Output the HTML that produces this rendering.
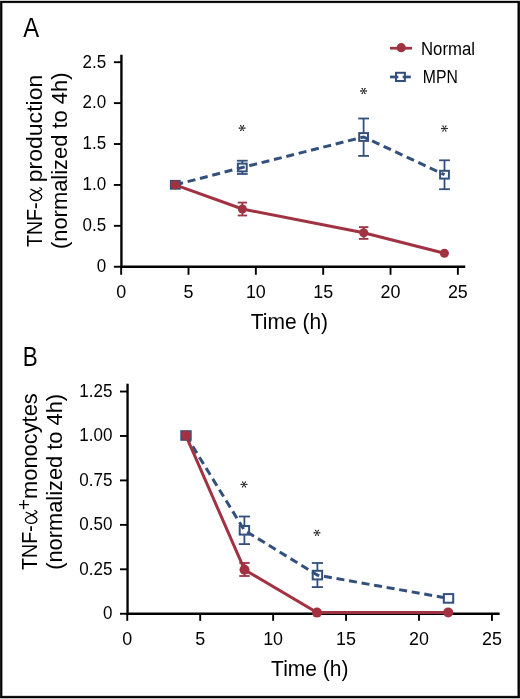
<!DOCTYPE html>
<html><head><meta charset="utf-8"><style>
html,body{margin:0;padding:0;background:#fff;}
body{width:520px;height:699px;overflow:hidden;position:relative;}
svg{position:absolute;left:0;top:0;display:block;will-change:transform;}
text{-webkit-font-smoothing:antialiased;}
</style></head><body>
<svg width="520" height="699" viewBox="0 0 520 699">
<rect x="0" y="0" width="520" height="699" fill="#fff"/>
<g shape-rendering="crispEdges">
<rect x="0" y="0" width="520" height="1" fill="#d0d0d0"/>
<rect x="0" y="698" width="520" height="1" fill="#c4c4c4"/>
<rect x="0" y="1" width="520" height="1" fill="#000"/>
<rect x="0" y="2" width="520" height="1" fill="#1a1a1a"/>
<rect x="3" y="3" width="514" height="1" fill="#ececec"/>
<rect x="3" y="695" width="514" height="1" fill="#dadada"/>
<rect x="0" y="696" width="520" height="1" fill="#121212"/>
<rect x="0" y="697" width="520" height="1" fill="#000"/>
<rect x="0" y="1" width="1" height="697" fill="#1a1a1a"/>
<rect x="1" y="1" width="1" height="697" fill="#000"/>
<rect x="2" y="3" width="1" height="693" fill="#a0a0a0"/>
<rect x="517" y="3" width="1" height="693" fill="#808080"/>
<rect x="518" y="1" width="1" height="697" fill="#000"/>
<rect x="519" y="1" width="1" height="697" fill="#1a1a1a"/>
</g>

<g stroke="#000" fill="none">
<line x1="121.42" y1="54.7" x2="121.42" y2="267.95" stroke-width="2.35"/>
<line x1="120.32000000000001" y1="266.75" x2="465.2" y2="266.75" stroke-width="2.45"/>
<line x1="113.9" y1="266.75" x2="121.42" y2="266.75" stroke-width="1.9"/>
<line x1="113.9" y1="225.84" x2="121.42" y2="225.84" stroke-width="1.9"/>
<line x1="113.9" y1="184.93" x2="121.42" y2="184.93" stroke-width="1.9"/>
<line x1="113.9" y1="144.02" x2="121.42" y2="144.02" stroke-width="1.9"/>
<line x1="113.9" y1="103.11" x2="121.42" y2="103.11" stroke-width="1.9"/>
<line x1="113.9" y1="62.20" x2="121.42" y2="62.20" stroke-width="1.9"/>
<line x1="121.16" y1="266.75" x2="121.16" y2="274.75" stroke-width="1.9"/>
<line x1="188.50" y1="266.75" x2="188.50" y2="274.75" stroke-width="1.9"/>
<line x1="255.84" y1="266.75" x2="255.84" y2="274.75" stroke-width="1.9"/>
<line x1="323.18" y1="266.75" x2="323.18" y2="274.75" stroke-width="1.9"/>
<line x1="390.52" y1="266.75" x2="390.52" y2="274.75" stroke-width="1.9"/>
<line x1="457.86" y1="266.75" x2="457.86" y2="274.75" stroke-width="1.9"/>
</g>
<g font-family='"Liberation Sans", sans-serif' font-size="17.9" fill="#000">
<text x="106.1" y="272.10" text-anchor="end" textLength="9.45" lengthAdjust="spacingAndGlyphs">0</text>
<text x="106.1" y="231.19" text-anchor="end" textLength="23.64" lengthAdjust="spacingAndGlyphs">0.5</text>
<text x="106.1" y="190.28" text-anchor="end" textLength="23.64" lengthAdjust="spacingAndGlyphs">1.0</text>
<text x="106.1" y="149.37" text-anchor="end" textLength="23.64" lengthAdjust="spacingAndGlyphs">1.5</text>
<text x="106.1" y="108.46" text-anchor="end" textLength="23.64" lengthAdjust="spacingAndGlyphs">2.0</text>
<text x="106.1" y="67.55" text-anchor="end" textLength="23.64" lengthAdjust="spacingAndGlyphs">2.5</text>
<text x="121.16" y="297.8" text-anchor="middle" textLength="9.95" lengthAdjust="spacingAndGlyphs">0</text>
<text x="188.50" y="297.8" text-anchor="middle" textLength="9.95" lengthAdjust="spacingAndGlyphs">5</text>
<text x="255.84" y="297.8" text-anchor="middle" textLength="19.90" lengthAdjust="spacingAndGlyphs">10</text>
<text x="323.18" y="297.8" text-anchor="middle" textLength="19.90" lengthAdjust="spacingAndGlyphs">15</text>
<text x="390.52" y="297.8" text-anchor="middle" textLength="19.90" lengthAdjust="spacingAndGlyphs">20</text>
<text x="457.86" y="297.8" text-anchor="middle" textLength="19.90" lengthAdjust="spacingAndGlyphs">25</text>
</g>
<g stroke="#000" fill="none">
<line x1="127.55" y1="383.7" x2="127.55" y2="614.95" stroke-width="2.35"/>
<line x1="126.45" y1="613.75" x2="499.6" y2="613.75" stroke-width="2.45"/>
<line x1="120.0" y1="613.75" x2="127.55" y2="613.75" stroke-width="1.9"/>
<line x1="120.0" y1="569.30" x2="127.55" y2="569.30" stroke-width="1.9"/>
<line x1="120.0" y1="524.86" x2="127.55" y2="524.86" stroke-width="1.9"/>
<line x1="120.0" y1="480.41" x2="127.55" y2="480.41" stroke-width="1.9"/>
<line x1="120.0" y1="435.97" x2="127.55" y2="435.97" stroke-width="1.9"/>
<line x1="120.0" y1="391.52" x2="127.55" y2="391.52" stroke-width="1.9"/>
<line x1="127.26" y1="613.75" x2="127.26" y2="620.84" stroke-width="1.9"/>
<line x1="200.19" y1="613.75" x2="200.19" y2="620.84" stroke-width="1.9"/>
<line x1="273.13" y1="613.75" x2="273.13" y2="620.84" stroke-width="1.9"/>
<line x1="346.06" y1="613.75" x2="346.06" y2="620.84" stroke-width="1.9"/>
<line x1="419.00" y1="613.75" x2="419.00" y2="620.84" stroke-width="1.9"/>
<line x1="491.94" y1="613.75" x2="491.94" y2="620.84" stroke-width="1.9"/>
</g>
<g font-family='"Liberation Sans", sans-serif' font-size="17.9" fill="#000">
<text x="112.4" y="619.10" text-anchor="end" textLength="9.45" lengthAdjust="spacingAndGlyphs">0</text>
<text x="112.4" y="574.65" text-anchor="end" textLength="33.09" lengthAdjust="spacingAndGlyphs">0.25</text>
<text x="112.4" y="530.21" text-anchor="end" textLength="33.09" lengthAdjust="spacingAndGlyphs">0.50</text>
<text x="112.4" y="485.76" text-anchor="end" textLength="33.09" lengthAdjust="spacingAndGlyphs">0.75</text>
<text x="112.4" y="441.32" text-anchor="end" textLength="33.09" lengthAdjust="spacingAndGlyphs">1.00</text>
<text x="112.4" y="396.88" text-anchor="end" textLength="33.09" lengthAdjust="spacingAndGlyphs">1.25</text>
<text x="127.26" y="644.5" text-anchor="middle" textLength="9.95" lengthAdjust="spacingAndGlyphs">0</text>
<text x="200.19" y="644.5" text-anchor="middle" textLength="9.95" lengthAdjust="spacingAndGlyphs">5</text>
<text x="273.13" y="644.5" text-anchor="middle" textLength="19.90" lengthAdjust="spacingAndGlyphs">10</text>
<text x="346.06" y="644.5" text-anchor="middle" textLength="19.90" lengthAdjust="spacingAndGlyphs">15</text>
<text x="419.00" y="644.5" text-anchor="middle" textLength="19.90" lengthAdjust="spacingAndGlyphs">20</text>
<text x="491.94" y="644.5" text-anchor="middle" textLength="19.90" lengthAdjust="spacingAndGlyphs">25</text>
</g>
<g font-family='"Liberation Sans", sans-serif' fill="#000">
<text x="23.3" y="37.1" font-size="27.9" textLength="15.9" lengthAdjust="spacingAndGlyphs">A</text>
<text x="22.8" y="366.1" font-size="27.9" textLength="15.0" lengthAdjust="spacingAndGlyphs">B</text>
<text x="250.8" y="328.6" font-size="22" textLength="77.3" lengthAdjust="spacingAndGlyphs">Time (h)</text>
<text x="271.1" y="675.8" font-size="22" textLength="77.3" lengthAdjust="spacingAndGlyphs">Time (h)</text>
<text transform="translate(41.7,246.94) rotate(-90)" font-size="22" textLength="44.5" lengthAdjust="spacingAndGlyphs">TNF-</text>
<path transform="translate(41.7,200.8) rotate(-90)" d="M11.6 -11.2 C10.6 -9.0 9.8 -6.8 8.6 -5.2 C7.0 -2.0 6.0 0.0 4.2 0.0 C1.8 0.0 0.3 -2.6 0.3 -5.7 C0.3 -9.0 2.0 -11.5 4.2 -11.5 C6.2 -11.5 7.2 -8.0 8.6 -5.2 C9.6 -3.0 10.4 -0.5 11.3 0.0 C12.2 0.3 13.0 -1.5 13.3 -2.5" fill="none" stroke="#000" stroke-width="1.3"/>
<text transform="translate(41.7,182.3) rotate(-90)" font-size="22" textLength="107.6" lengthAdjust="spacingAndGlyphs">production</text>
<text transform="translate(67.0,249.05) rotate(-90)" font-size="22" textLength="176.5" lengthAdjust="spacingAndGlyphs">(normalized to 4h)</text>
<text transform="translate(36.7,570.04) rotate(-90)" font-size="22" textLength="44.7" lengthAdjust="spacingAndGlyphs">TNF-</text>
<path transform="translate(36.9,523.7) rotate(-90)" d="M11.6 -11.2 C10.6 -9.0 9.8 -6.8 8.6 -5.2 C7.0 -2.0 6.0 0.0 4.2 0.0 C1.8 0.0 0.3 -2.6 0.3 -5.7 C0.3 -9.0 2.0 -11.5 4.2 -11.5 C6.2 -11.5 7.2 -8.0 8.6 -5.2 C9.6 -3.0 10.4 -0.5 11.3 0.0 C12.2 0.3 13.0 -1.5 13.3 -2.5" fill="none" stroke="#000" stroke-width="1.3"/>
<text transform="translate(30.7,510.2) rotate(-90)" font-size="20.4" textLength="11.2" lengthAdjust="spacingAndGlyphs">+</text>
<text transform="translate(36.7,498.95) rotate(-90)" font-size="22" textLength="105.7" lengthAdjust="spacingAndGlyphs">monocytes</text>
<text transform="translate(62.3,569.85) rotate(-90)" font-size="22" textLength="176.0" lengthAdjust="spacingAndGlyphs">(normalized to 4h)</text>
<text x="421" y="54.5" font-size="17.6" textLength="54" lengthAdjust="spacingAndGlyphs">Normal</text>
<text x="422.8" y="82.8" font-size="17.6" textLength="35" lengthAdjust="spacingAndGlyphs">MPN</text>
</g>
<g stroke="#222" fill="#222" stroke-width="0.9" stroke-linecap="round">
<line x1="239.10" y1="128.10" x2="245.10" y2="128.10"/><line x1="240.60" y1="125.50" x2="243.60" y2="130.70"/><line x1="243.60" y1="125.50" x2="240.60" y2="130.70"/><circle cx="244.80" cy="128.10" r="0.65" stroke="none"/><circle cx="243.45" cy="130.44" r="0.65" stroke="none"/><circle cx="240.75" cy="130.44" r="0.65" stroke="none"/><circle cx="239.40" cy="128.10" r="0.65" stroke="none"/><circle cx="240.75" cy="125.76" r="0.65" stroke="none"/><circle cx="243.45" cy="125.76" r="0.65" stroke="none"/>
<line x1="360.60" y1="91.00" x2="366.60" y2="91.00"/><line x1="362.10" y1="88.40" x2="365.10" y2="93.60"/><line x1="365.10" y1="88.40" x2="362.10" y2="93.60"/><circle cx="366.30" cy="91.00" r="0.65" stroke="none"/><circle cx="364.95" cy="93.34" r="0.65" stroke="none"/><circle cx="362.25" cy="93.34" r="0.65" stroke="none"/><circle cx="360.90" cy="91.00" r="0.65" stroke="none"/><circle cx="362.25" cy="88.66" r="0.65" stroke="none"/><circle cx="364.95" cy="88.66" r="0.65" stroke="none"/>
<line x1="441.40" y1="128.50" x2="447.40" y2="128.50"/><line x1="442.90" y1="125.90" x2="445.90" y2="131.10"/><line x1="445.90" y1="125.90" x2="442.90" y2="131.10"/><circle cx="447.10" cy="128.50" r="0.65" stroke="none"/><circle cx="445.75" cy="130.84" r="0.65" stroke="none"/><circle cx="443.05" cy="130.84" r="0.65" stroke="none"/><circle cx="441.70" cy="128.50" r="0.65" stroke="none"/><circle cx="443.05" cy="126.16" r="0.65" stroke="none"/><circle cx="445.75" cy="126.16" r="0.65" stroke="none"/>
<line x1="241.00" y1="484.40" x2="247.00" y2="484.40"/><line x1="242.50" y1="481.80" x2="245.50" y2="487.00"/><line x1="245.50" y1="481.80" x2="242.50" y2="487.00"/><circle cx="246.70" cy="484.40" r="0.65" stroke="none"/><circle cx="245.35" cy="486.74" r="0.65" stroke="none"/><circle cx="242.65" cy="486.74" r="0.65" stroke="none"/><circle cx="241.30" cy="484.40" r="0.65" stroke="none"/><circle cx="242.65" cy="482.06" r="0.65" stroke="none"/><circle cx="245.35" cy="482.06" r="0.65" stroke="none"/>
<line x1="314.00" y1="532.80" x2="320.00" y2="532.80"/><line x1="315.50" y1="530.20" x2="318.50" y2="535.40"/><line x1="318.50" y1="530.20" x2="315.50" y2="535.40"/><circle cx="319.70" cy="532.80" r="0.65" stroke="none"/><circle cx="318.35" cy="535.14" r="0.65" stroke="none"/><circle cx="315.65" cy="535.14" r="0.65" stroke="none"/><circle cx="314.30" cy="532.80" r="0.65" stroke="none"/><circle cx="315.65" cy="530.46" r="0.65" stroke="none"/><circle cx="318.35" cy="530.46" r="0.65" stroke="none"/>
</g>
<path d="M175.30,184.80 L242.30,167.50 L363.60,137.00 L444.50,174.70" fill="none" stroke="#33507d" stroke-width="3.0" stroke-dasharray="8 4.73"/>
<g stroke="#33507d" stroke-width="1.8" fill="none"><line x1="242.30" y1="160.7" x2="242.30" y2="163.10"/><line x1="242.30" y1="171.90" x2="242.30" y2="174.0"/><line x1="236.90" y1="160.7" x2="247.70" y2="160.7"/><line x1="236.90" y1="174.0" x2="247.70" y2="174.0"/></g>
<g stroke="#33507d" stroke-width="1.8" fill="none"><line x1="363.60" y1="118.5" x2="363.60" y2="132.60"/><line x1="363.60" y1="141.40" x2="363.60" y2="155.9"/><line x1="358.20" y1="118.5" x2="369.00" y2="118.5"/><line x1="358.20" y1="155.9" x2="369.00" y2="155.9"/></g>
<g stroke="#33507d" stroke-width="1.8" fill="none"><line x1="444.50" y1="160.3" x2="444.50" y2="170.30"/><line x1="444.50" y1="179.10" x2="444.50" y2="189.2"/><line x1="439.10" y1="160.3" x2="449.90" y2="160.3"/><line x1="439.10" y1="189.2" x2="449.90" y2="189.2"/></g>
<rect x="170.90" y="180.90" width="8.80" height="7.80" fill="#fff" fill-opacity="0" stroke="#33507d" stroke-width="2"/>
<rect x="237.90" y="163.60" width="8.80" height="7.80" fill="#fff" fill-opacity="0" stroke="#33507d" stroke-width="2"/>
<rect x="359.20" y="133.10" width="8.80" height="7.80" fill="#fff" fill-opacity="0" stroke="#33507d" stroke-width="2"/>
<rect x="440.10" y="170.80" width="8.80" height="7.80" fill="#fff" fill-opacity="0" stroke="#33507d" stroke-width="2"/>
<path d="M175.20,184.80 L242.40,209.00 L363.70,232.80 L444.40,253.20" fill="none" stroke="#a13242" stroke-width="3.0"/>
<g stroke="#a13242" stroke-width="1.8" fill="none"><line x1="242.40" y1="202.6" x2="242.40" y2="215.5"/><line x1="237.70" y1="202.6" x2="247.10" y2="202.6"/><line x1="237.70" y1="215.5" x2="247.10" y2="215.5"/></g>
<g stroke="#a13242" stroke-width="1.8" fill="none"><line x1="363.70" y1="227.1" x2="363.70" y2="238.9"/><line x1="359.00" y1="227.1" x2="368.40" y2="227.1"/><line x1="359.00" y1="238.9" x2="368.40" y2="238.9"/></g>
<circle cx="175.20" cy="184.80" r="4.5" fill="#a13242"/>
<circle cx="242.40" cy="209.00" r="4.5" fill="#a13242"/>
<circle cx="363.70" cy="232.80" r="4.5" fill="#a13242"/>
<circle cx="444.40" cy="253.20" r="4.5" fill="#a13242"/>
<path d="M186.00,435.50 L244.40,530.30 L317.40,575.10 L448.50,598.40" fill="none" stroke="#33507d" stroke-width="3.0" stroke-dasharray="8 4.73"/>
<g stroke="#33507d" stroke-width="1.8" fill="none"><line x1="244.40" y1="516.5" x2="244.40" y2="525.50"/><line x1="244.40" y1="535.10" x2="244.40" y2="544.1"/><line x1="238.80" y1="516.5" x2="250.00" y2="516.5"/><line x1="238.80" y1="544.1" x2="250.00" y2="544.1"/></g>
<g stroke="#33507d" stroke-width="1.8" fill="none"><line x1="317.40" y1="563.0" x2="317.40" y2="570.30"/><line x1="317.40" y1="579.90" x2="317.40" y2="587.1"/><line x1="311.80" y1="563.0" x2="323.00" y2="563.0"/><line x1="311.80" y1="587.1" x2="323.00" y2="587.1"/></g>
<rect x="181.30" y="431.20" width="9.40" height="8.60" fill="#fff" fill-opacity="0" stroke="#33507d" stroke-width="2"/>
<rect x="239.70" y="526.00" width="9.40" height="8.60" fill="#fff" fill-opacity="0" stroke="#33507d" stroke-width="2"/>
<rect x="312.70" y="570.80" width="9.40" height="8.60" fill="#fff" fill-opacity="0" stroke="#33507d" stroke-width="2"/>
<rect x="443.80" y="594.10" width="9.40" height="8.60" fill="#fff" fill-opacity="0" stroke="#33507d" stroke-width="2"/>
<path d="M185.80,435.40 L244.50,569.70 L317.00,612.60 L448.20,612.40" fill="none" stroke="#a13242" stroke-width="3.0"/>
<g stroke="#a13242" stroke-width="1.8" fill="none"><line x1="244.50" y1="563.0" x2="244.50" y2="576.0"/><line x1="239.30" y1="563.0" x2="249.70" y2="563.0"/><line x1="239.30" y1="576.0" x2="249.70" y2="576.0"/></g>
<circle cx="185.80" cy="435.40" r="5.0" fill="#a13242"/>
<circle cx="244.50" cy="569.70" r="5.0" fill="#a13242"/>
<circle cx="317.00" cy="612.60" r="5.0" fill="#a13242"/>
<circle cx="448.20" cy="612.40" r="5.0" fill="#a13242"/>
<line x1="390" y1="48.2" x2="412" y2="48.2" stroke="#a13242" stroke-width="2.7"/>
<circle cx="401.2" cy="47.7" r="4.6" fill="#a13242"/>
<line x1="390" y1="76.95" x2="398.3" y2="76.95" stroke="#33507d" stroke-width="2.7"/>
<line x1="402.7" y1="76.95" x2="410.8" y2="76.95" stroke="#33507d" stroke-width="2.7"/>
<rect x="396" y="72.8" width="8.9" height="8.2" fill="none" stroke="#33507d" stroke-width="2"/>
</svg>
</body></html>
